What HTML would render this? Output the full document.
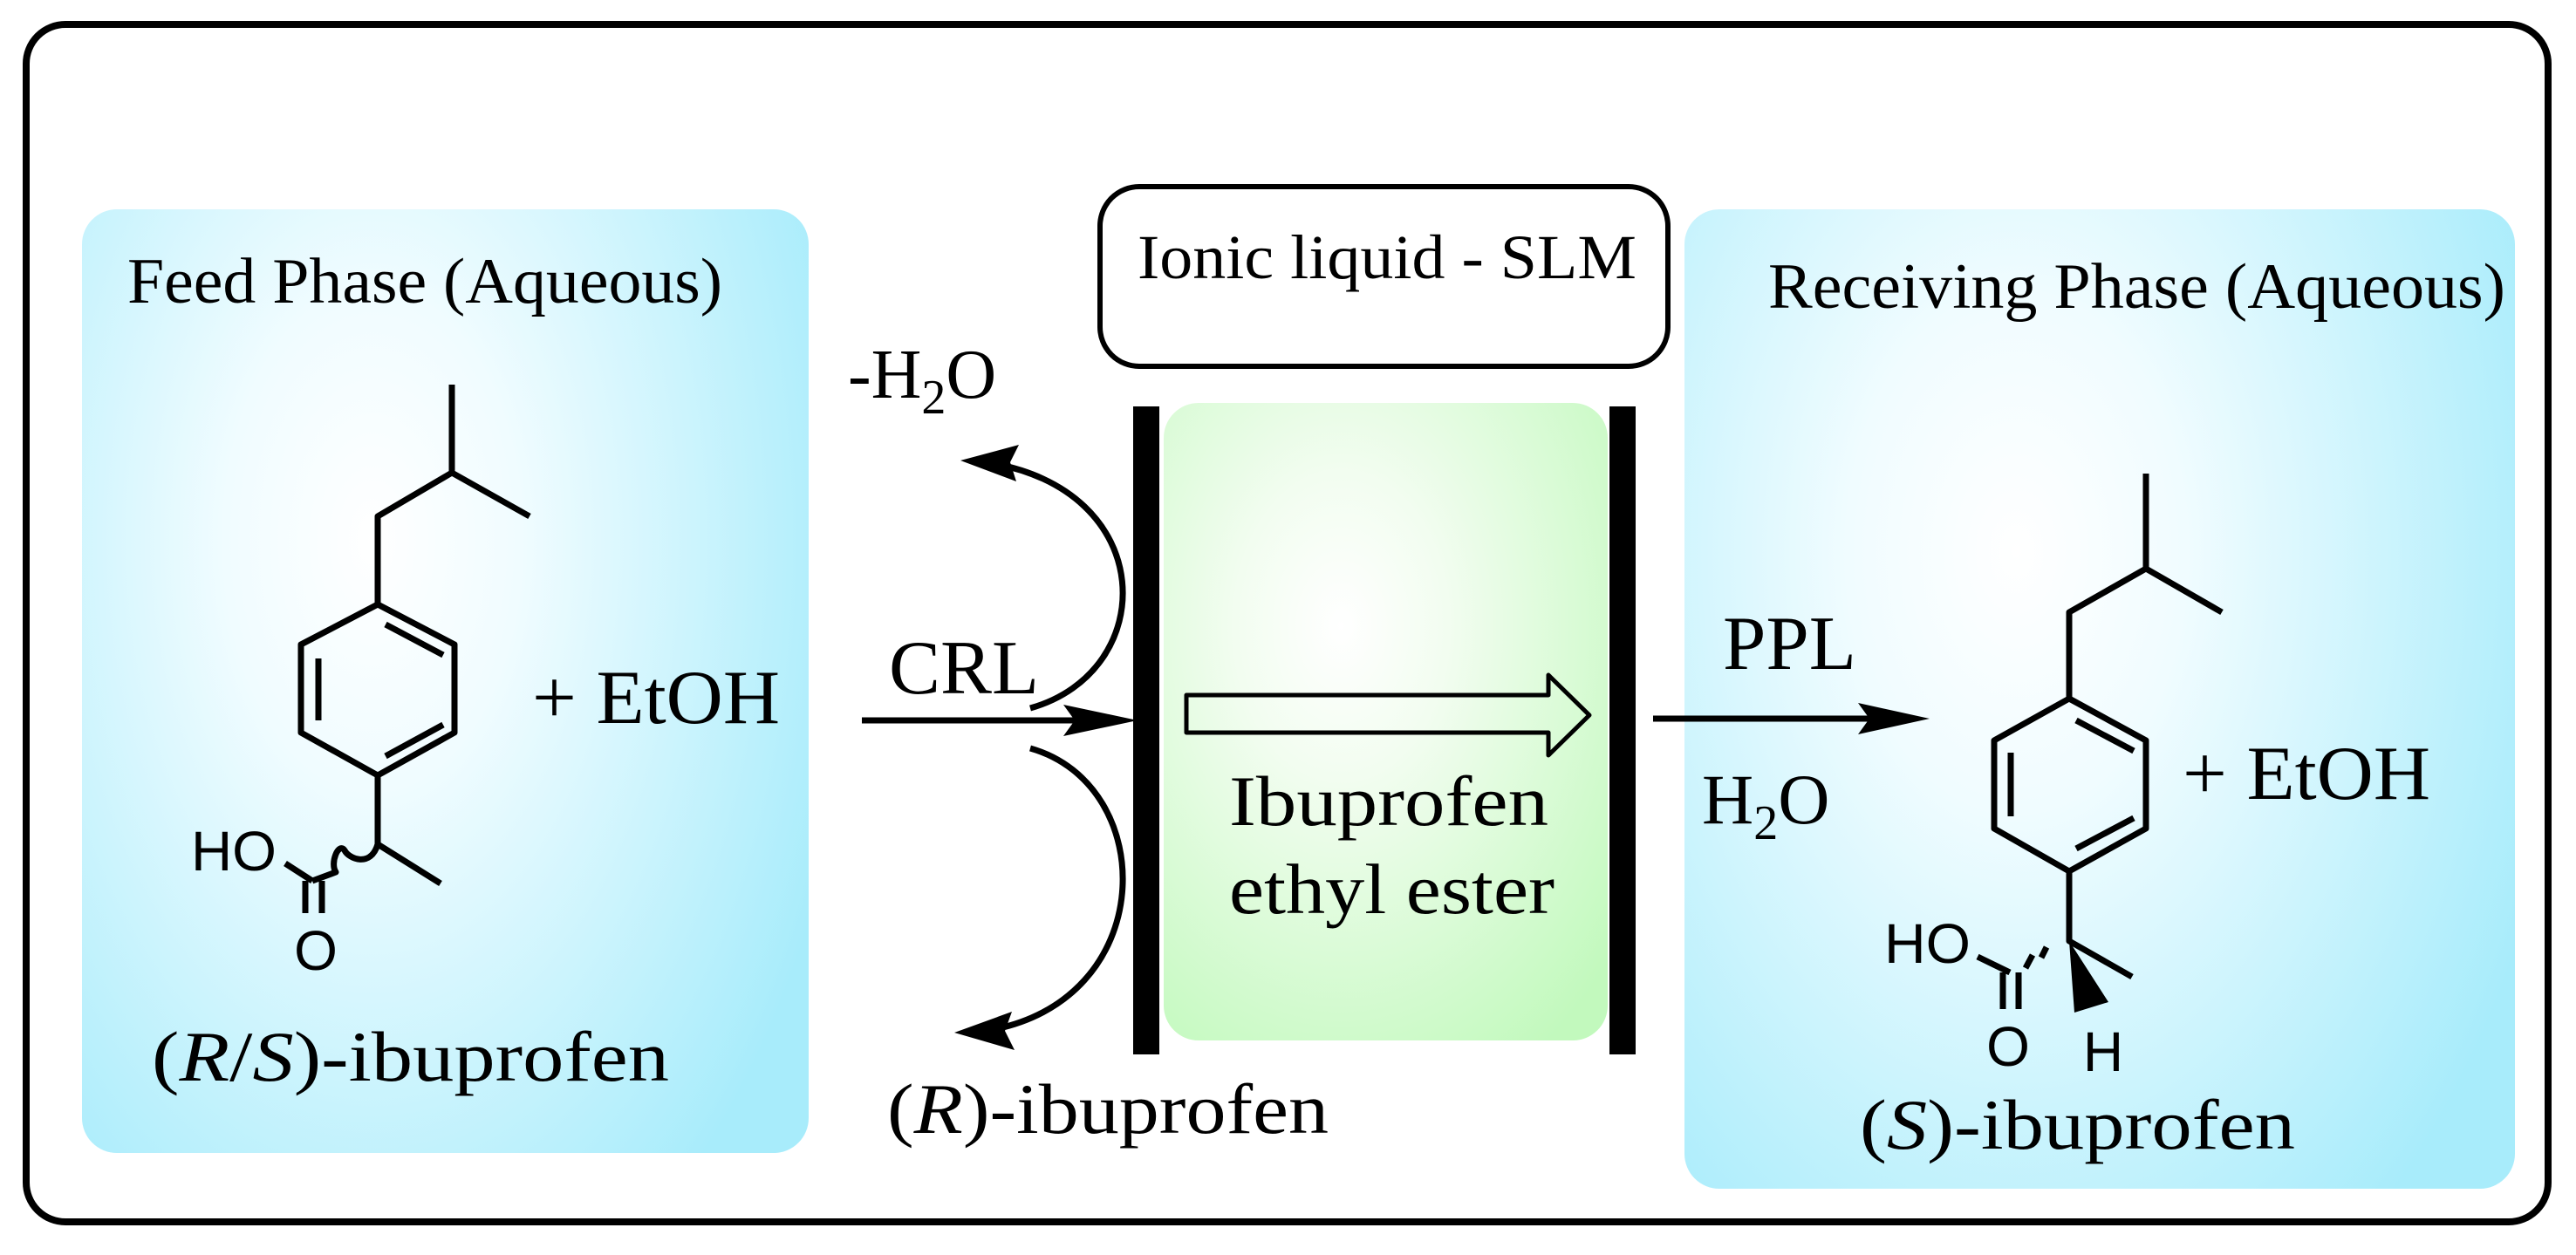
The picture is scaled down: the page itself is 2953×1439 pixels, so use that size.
<!DOCTYPE html>
<html><head><meta charset="utf-8"><style>html,body{margin:0;padding:0;background:#fff}svg{display:block}</style></head>
<body>
<svg width="2953" height="1439" viewBox="0 0 2953 1439" xmlns="http://www.w3.org/2000/svg">
<defs>
<radialGradient id="bl" cx="0.4" cy="0.35" r="0.8" gradientTransform="translate(0.4 0.35) scale(0.85 1.1) translate(-0.4 -0.35)">
<stop offset="0" stop-color="#ffffff"/><stop offset="0.3" stop-color="#f0fcff"/><stop offset="1" stop-color="#a8ecfb"/>
</radialGradient>
<radialGradient id="gr" cx="0.4" cy="0.35" r="0.8">
<stop offset="0" stop-color="#ffffff"/><stop offset="0.3" stop-color="#f2fdf0"/><stop offset="1" stop-color="#c2f9bd"/>
</radialGradient>
</defs>
<rect x="30" y="28" width="2891" height="1373" rx="45" fill="#fff" stroke="#000" stroke-width="8"/>
<rect x="94" y="240" width="833" height="1082" rx="40" fill="url(#bl)"/>
<rect x="1931" y="240" width="952" height="1123" rx="40" fill="url(#bl)"/>
<rect x="1334" y="462" width="509" height="731" rx="40" fill="url(#gr)"/>
<rect x="1261" y="214" width="651" height="206" rx="45" fill="#fff" stroke="#000" stroke-width="6"/>
<rect x="1299" y="466" width="30" height="743" fill="#000"/>
<rect x="1845" y="466" width="30" height="743" fill="#000"/>

<g font-family="'Liberation Serif',serif" fill="#000">
<text x="146" y="347" font-size="74" textLength="682" lengthAdjust="spacingAndGlyphs">Feed Phase (Aqueous)</text>
<text x="2027" y="353" font-size="74" textLength="845" lengthAdjust="spacingAndGlyphs">Receiving Phase (Aqueous)</text>
<text x="1304" y="319" font-size="72" textLength="572" lengthAdjust="spacingAndGlyphs">Ionic liquid - SLM</text>
<text x="610" y="829" font-size="88" textLength="284" lengthAdjust="spacingAndGlyphs">+ EtOH</text>
<text x="2502" y="916" font-size="88" textLength="284" lengthAdjust="spacingAndGlyphs">+ EtOH</text>
<text x="174" y="1239" font-size="82" textLength="593" lengthAdjust="spacingAndGlyphs">(<tspan font-style="italic">R</tspan>/<tspan font-style="italic">S</tspan>)-ibuprofen</text>
<text x="1017" y="1299" font-size="82" textLength="506" lengthAdjust="spacingAndGlyphs">(<tspan font-style="italic">R</tspan>)-ibuprofen</text>
<text x="2132" y="1317" font-size="82" textLength="499" lengthAdjust="spacingAndGlyphs">(<tspan font-style="italic">S</tspan>)-ibuprofen</text>
<text x="972" y="456" font-size="80">-H<tspan font-size="56" dy="18">2</tspan><tspan dy="-18">O</tspan></text>
<text x="1951" y="944" font-size="82">H<tspan font-size="56" dy="18">2</tspan><tspan dy="-18">O</tspan></text>
<text x="1019" y="795" font-size="88" textLength="172" lengthAdjust="spacingAndGlyphs">CRL</text>
<text x="1975" y="767" font-size="88" textLength="153" lengthAdjust="spacingAndGlyphs">PPL</text>
<text x="1409" y="946" font-size="82" textLength="366" lengthAdjust="spacingAndGlyphs">Ibuprofen</text>
<text x="1409" y="1047" font-size="82" textLength="373" lengthAdjust="spacingAndGlyphs">ethyl ester</text>
</g>
<g font-family="'Liberation Sans',sans-serif" font-size="64" fill="#000">
<text x="219" y="998" textLength="98" lengthAdjust="spacingAndGlyphs">HO</text>
<text x="362" y="1112" text-anchor="middle">O</text>
<text x="2160" y="1104" textLength="99" lengthAdjust="spacingAndGlyphs">HO</text>
<text x="2302" y="1222" text-anchor="middle">O</text>
<text x="2411" y="1228" text-anchor="middle">H</text>
</g>

<g stroke="#000" stroke-width="7" fill="none" stroke-linejoin="round">
<polygon points="433,693 521,739 521,840 433,889 345,840 345,739"/>
<line x1="442" y1="716" x2="508" y2="751"/>
<line x1="365" y1="755" x2="365" y2="826"/>
<line x1="442" y1="867" x2="508" y2="831"/>
<polyline points="433,693 433,592 518,542 518,441"/>
<line x1="518" y1="542" x2="607" y2="592"/>
<polyline points="433,889 433,968 505,1013"/>
<path d="M433,968 C425,995 400,985 395,975 C388,965 378,990 385,1000 L358,1010"/>
<line x1="358" y1="1010" x2="327" y2="990"/>
<line x1="350" y1="1010" x2="350" y2="1047"/>
<line x1="369" y1="1010" x2="369" y2="1047"/>
<polygon points="2372,801 2460,849 2460,950 2372,999 2286,950 2286,849"/>
<line x1="2380" y1="826" x2="2446" y2="861"/>
<line x1="2305" y1="863" x2="2305" y2="936"/>
<line x1="2380" y1="973" x2="2446" y2="938"/>
<polyline points="2372,801 2372,702 2460,652 2460,543"/>
<line x1="2460" y1="652" x2="2547" y2="702"/>
<polyline points="2372,999 2372,1079 2444,1120"/>
<line x1="2304" y1="1115" x2="2267" y2="1097"/>
<line x1="2296" y1="1115" x2="2296" y2="1157"/>
<line x1="2314" y1="1115" x2="2314" y2="1157"/>
<line x1="2322" y1="1110" x2="2330" y2="1095"/>
<line x1="2340" y1="1098" x2="2346" y2="1086"/>
<line x1="988" y1="826" x2="1240" y2="826"/>
<line x1="1895" y1="824" x2="2150" y2="824"/>
<path d="M1181,812 C1330,770 1330,560 1130,530"/>
<path d="M1181,858 C1330,900 1330,1150 1130,1182"/>
<path d="M1360,797 H1775 V774 L1822,820 L1775,866 V840 H1360 Z" stroke-width="5"/>
</g>
<g fill="#000">
<polygon points="2372,1079 2378,1161 2417,1149"/>
<polygon points="1304,826 1219,808 1232,826 1219,844"/>
<polygon points="2212,824 2130,806 2143,824 2130,842"/>
<polygon points="1101,528 1168,510 1158,530 1165,552"/>
<polygon points="1094,1184 1160,1160 1152,1182 1163,1204"/>
</g>
</svg>
</body></html>
